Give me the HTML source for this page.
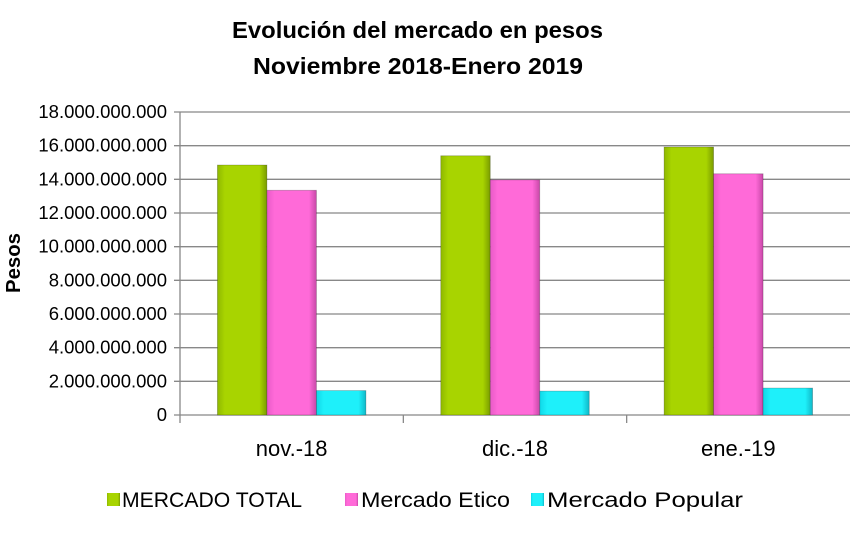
<!DOCTYPE html>
<html><head><meta charset="utf-8"><style>
body{margin:0;background:#fff;}
svg text{font-family:"Liberation Sans",Arial,sans-serif;}
</style></head><body>
<svg width="863" height="532" viewBox="0 0 863 532">
<defs>
<linearGradient id="gG" x1="0" x2="1"><stop offset="0" stop-color="#8fb800"/><stop offset="0.15" stop-color="#a8d400"/><stop offset="0.85" stop-color="#a8d400"/><stop offset="1" stop-color="#7a9c00"/></linearGradient>
<linearGradient id="gP" x1="0" x2="1"><stop offset="0" stop-color="#e85ac8"/><stop offset="0.15" stop-color="#ff6ad8"/><stop offset="0.85" stop-color="#ff6ad8"/><stop offset="1" stop-color="#c848a8"/></linearGradient>
<linearGradient id="gC" x1="0" x2="1"><stop offset="0" stop-color="#10d8e8"/><stop offset="0.15" stop-color="#1ef0fa"/><stop offset="0.85" stop-color="#1ef0fa"/><stop offset="1" stop-color="#10b8c8"/></linearGradient>
</defs>
<text x="232" y="38" font-size="23" font-weight="bold" textLength="371" lengthAdjust="spacingAndGlyphs">Evolución del mercado en pesos</text>
<text x="253" y="74" font-size="23" font-weight="bold" textLength="330" lengthAdjust="spacingAndGlyphs">Noviembre 2018-Enero 2019</text>
<text transform="translate(20,263) rotate(-90)" text-anchor="middle" font-size="20" font-weight="bold" textLength="60" lengthAdjust="spacingAndGlyphs">Pesos</text>
<g id="grid"></g><g id="bars"></g><g id="ticks"></g>
<g font-size="21">
<rect x="107" y="493" width="13" height="13" fill="url(#gG)"/>
<text x="122" y="507" textLength="180" lengthAdjust="spacingAndGlyphs">MERCADO TOTAL</text>
<rect x="345" y="493" width="13" height="13" fill="url(#gP)"/>
<text x="361" y="507" textLength="149" lengthAdjust="spacingAndGlyphs">Mercado Etico</text>
<rect x="531" y="493" width="13" height="13" fill="url(#gC)"/>
<text x="547" y="507" textLength="196" lengthAdjust="spacingAndGlyphs">Mercado Popular</text>
</g>
</svg>
<script>
const categories=["nov.-18","dic.-18","ene.-19"];
const total=[14.85e9,15.4e9,15.92e9];
const etico=[13.35e9,13.97e9,14.33e9];
const popular=[1.45e9,1.42e9,1.6e9];
const yTicks=[0,2e9,4e9,6e9,8e9,10e9,12e9,14e9,16e9,18e9];
const yTickLabels=["0","2.000.000.000","4.000.000.000","6.000.000.000","8.000.000.000","10.000.000.000","12.000.000.000","14.000.000.000","16.000.000.000","18.000.000.000"];
const NS="http://www.w3.org/2000/svg";
const x0=180,x1=850,yTop=112,yBot=415,yMax=18e9;
const y=v=>yBot-(v/yMax)*(yBot-yTop);
const bw=(x1-x0)/categories.length;
function mk(t,a,p){const e=document.createElementNS(NS,t);for(const k in a)e.setAttribute(k,a[k]);p.appendChild(e);return e;}
const grid=document.getElementById('grid'),bars=document.getElementById('bars'),ticks=document.getElementById('ticks');
yTicks.forEach((v,i)=>{
 const l=mk('line',{x1:x0-6,x2:x1,y1:y(v),y2:y(v),stroke:'#888','stroke-width':1.3},grid);
 
 
 const t=mk('text',{x:167,y:y(v)+6,'text-anchor':'end','font-size':18.5},ticks);
 t.textContent=yTickLabels[i];
 
 
});
const ax=mk('line',{x1:x0,x2:x0,y1:yTop,y2:yBot+8,stroke:'#888','stroke-width':1.3},grid);


const series=[[total,'url(#gG)','total'],[etico,'url(#gP)','etico'],[popular,'url(#gC)','popular']];
const barW=49.5;
categories.forEach((c,i)=>{
 const cx=x0+bw*(i+0.5);
 if(i>0){const tk=mk('line',{x1:x0+bw*i,x2:x0+bw*i,y1:yBot,y2:yBot+8,stroke:'#888','stroke-width':1.3},grid);
 
 }
 series.forEach((s,j)=>{
  const bx=cx-barW*1.5+barW*j;
  const r=mk('rect',{x:bx,y:y(s[0][i]),width:barW,height:yBot-y(s[0][i]),fill:s[1],stroke:'rgba(0,0,0,0.25)','stroke-width':0.8},bars);
  
  
 });
 const t=mk('text',{x:cx,y:456,'text-anchor':'middle','font-size':22},ticks);
 t.textContent=c;
 
 
});
</script>
</body></html>
